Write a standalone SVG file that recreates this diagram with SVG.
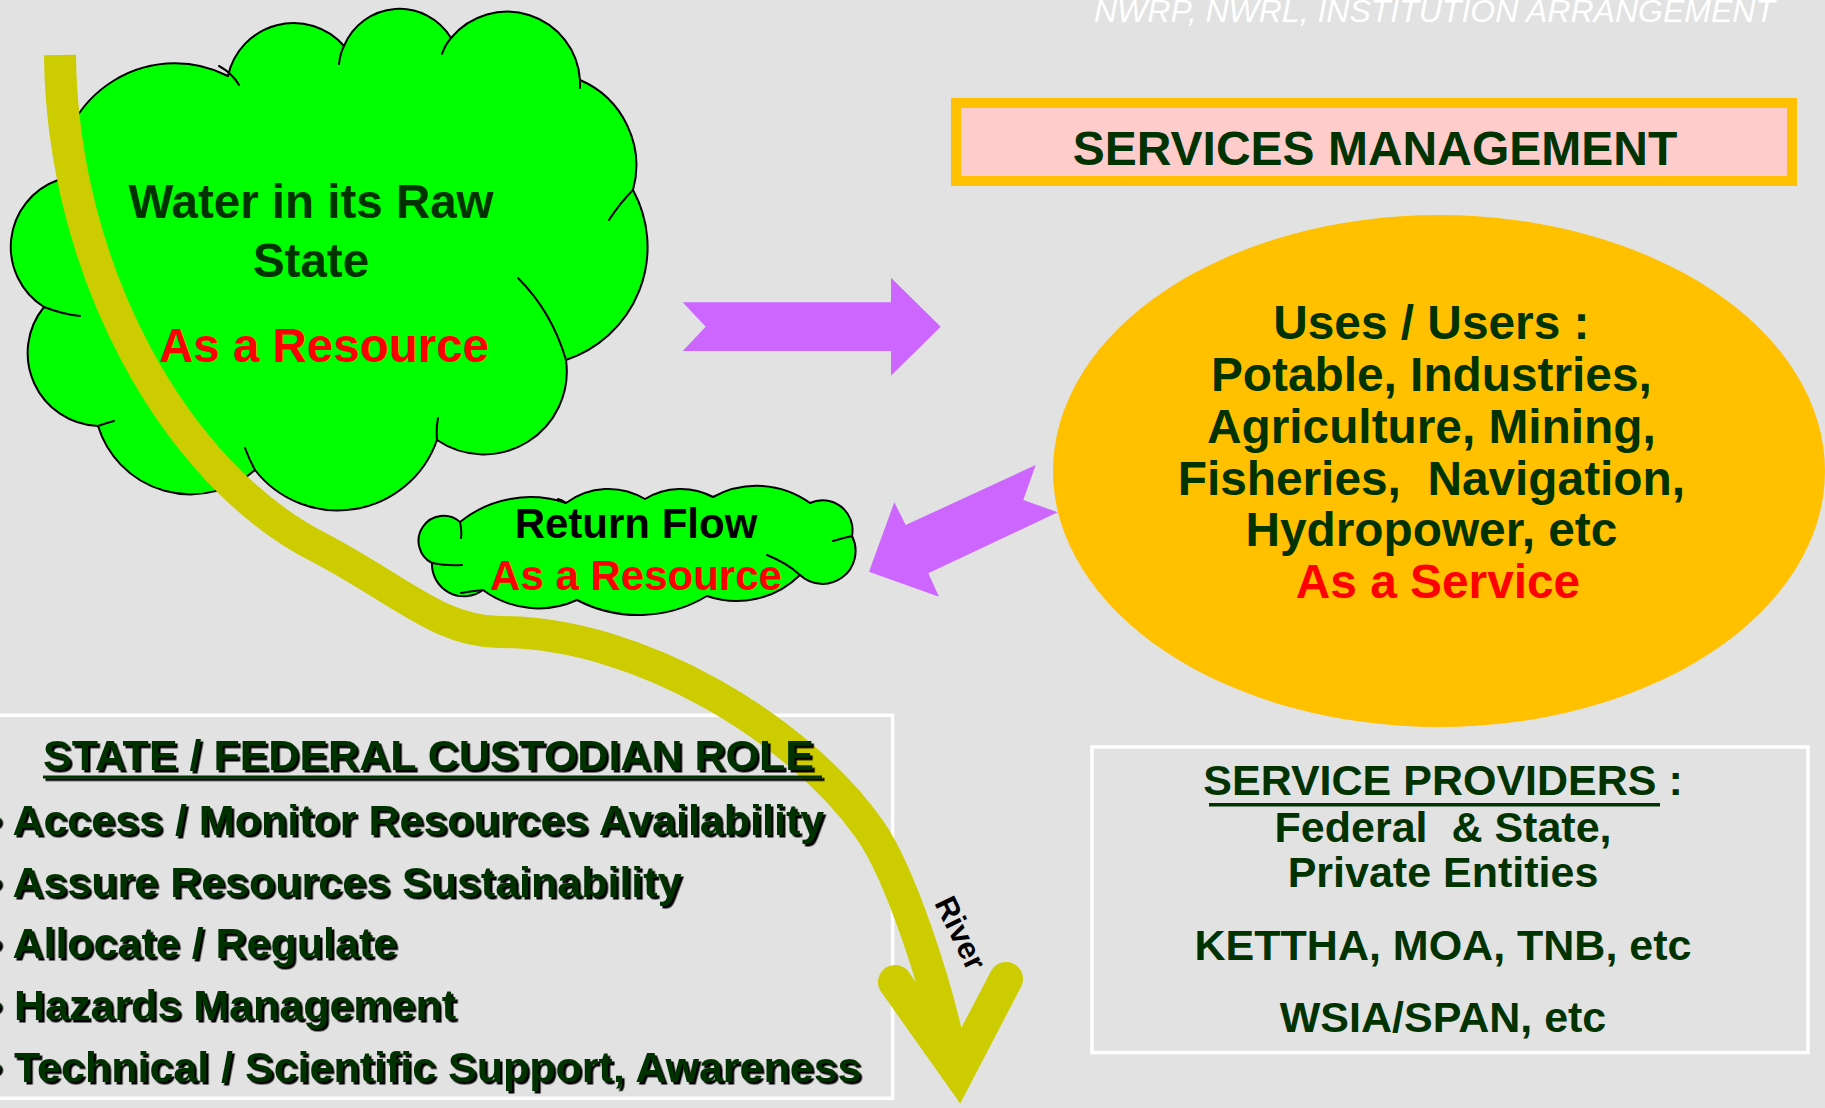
<svg xmlns="http://www.w3.org/2000/svg" width="1825" height="1108" viewBox="0 0 1825 1108">
<defs>
<style>
.t{font-family:"Liberation Sans",Arial,sans-serif;font-weight:bold}
.g{fill:#003300}
.r{fill:#FF0000}
.k{fill:#000000}
.cloud{fill:#00FF00;stroke:#000;stroke-width:2;stroke-linejoin:round}
.tail{fill:none;stroke:#000;stroke-width:2;stroke-linecap:round}
.box{fill:none;stroke:#FFFFFF;stroke-width:3.5}
.purple{fill:#CC66FF}
.river{fill:none;stroke:#CCCC00;stroke-width:32}
.pre{white-space:pre}
</style>
<filter id="shadow" x="-5%" y="-30%" width="112%" height="160%">
<feDropShadow dx="2.5" dy="2.5" stdDeviation="0.3" flood-color="#000000" flood-opacity="1"/>
</filter>
</defs>
<rect x="0" y="0" width="1825" height="1108" fill="#E2E2E2"/>

<g id="title">
<text x="1094" y="22" font-family="'Liberation Sans',Arial,sans-serif" font-style="italic" font-size="32" fill="#FFFFFF">NWRP, NWRL, INSTITUTION ARRANGEMENT</text>
</g>

<g id="raw-water-cloud">
<path class="cloud" d="M58,180 A117,117 0 0 1 228,76 A67,67 0 0 1 344,46 A60,60 0 0 1 451,38 A73,73 0 0 1 580,80 A93,93 0 0 1 633,190 A119,119 0 0 1 566,360 A83,83 0 0 1 437,440 A105,105 0 0 1 255,470 A97,97 0 0 1 98,426 A73,73 0 0 1 44,307 A71,71 0 0 1 58,180 Z"/>
<path class="tail" d="M219,66 Q232,73 239,85 M344,46 Q340,54 339,64 M451,38 Q445,45 442,54 M580,80 L580,88 M633,190 Q620,203 609,220 M518,278 Q552,312 566,360 M437,440 Q436,428 438,418 M255,470 Q249,459 245,448 M98,426 Q106,423 114,421 M44,307 Q62,314 80,316"/>
</g>

<g id="services-management">
<rect x="956" y="103" width="836" height="78" fill="#FFCCCC" stroke="#FFC000" stroke-width="10"/>
<text class="t g" x="1375" y="165" font-size="48" text-anchor="middle">SERVICES MANAGEMENT</text>
</g>

<g id="uses-users">
<ellipse cx="1439" cy="471" rx="386" ry="256" fill="#FFC000"/>
<text class="t g pre" font-size="47.8" text-anchor="middle">
<tspan x="1438" y="339">Uses / Users :</tspan>
<tspan x="1438" y="391">Potable, Industries,</tspan>
<tspan x="1438" y="443">Agriculture, Mining,</tspan>
<tspan x="1438" y="495">Fisheries,  Navigation,</tspan>
<tspan x="1438" y="546">Hydropower, etc</tspan>
</text>
<text class="t r" x="1438" y="598" font-size="47.8" text-anchor="middle">As a Service</text>
</g>

<g id="custodian-box">
<rect class="box" x="-4" y="715.3" width="896.6" height="383"/>
</g>

<g id="service-providers">
<rect class="box" x="1092" y="747" width="716" height="305.5"/>
<text class="t g pre" font-size="43" text-anchor="middle">
<tspan x="1449" y="795">SERVICE PROVIDERS :</tspan>
<tspan x="1449" y="842">Federal  &amp; State,</tspan>
<tspan x="1449" y="887">Private Entities</tspan>
<tspan x="1449" y="960">KETTHA, MOA, TNB, etc</tspan>
<tspan x="1449" y="1032">WSIA/SPAN, etc</tspan>
</text>
<rect x="1209" y="803" width="451" height="3.5" fill="#003300"/>
</g>

<g id="connectors">
<polygon id="arrow-to-uses" class="purple" points="682.7,302.3 891,302.3 891,277.7 940.7,326.7 891,375.7 891,351 682.7,351 705.7,326.7"/>
<polygon id="arrow-return" class="purple" points="1035.7,465 1023.3,500 1057.7,512.3 928.3,573.3 939,596.7 869,571.7 894.3,502.3 905.7,525"/>
<g id="river">
<path class="river" d="M60,55 C62,270 175,475 320,548 C400,590 440,632 500,632 C640,632 800,730 870,830 C900,873 935,980 950,1050"/>
<polyline points="895,982 958,1071 1006,979" fill="none" stroke="#CCCC00" stroke-width="34" stroke-linecap="round" stroke-linejoin="miter" stroke-miterlimit="10"/>
<text class="t k" x="0" y="11" font-size="31" text-anchor="middle" transform="translate(961,933) rotate(64)">River</text>
</g>
</g>

<g id="return-flow-cloud">
<path class="cloud" d="M460,522 A112,112 0 0 1 566,503 A71,71 0 0 1 645,499 A69,69 0 0 1 713,497 A91,91 0 0 1 810,503 A30,30 0 0 1 852,536 A33,33 0 0 1 800,575 A90,90 0 0 1 707,596 A133,133 0 0 1 577,600 A93,93 0 0 1 483,590 A32,32 0 0 1 432,563 A25,25 0 1 1 460,522 Z"/>
<path class="tail" d="M432,563 Q447,566 462,565 M767,555 Q787,563 800,575 M833,541 Q843,538 852,536 M483,590 Q472,591 461,593 M566,503 Q562,500 558,499 M460,522 Q462,530 461,538"/>
<text class="t k" x="636" y="538" font-size="42" text-anchor="middle">Return Flow</text>
<text class="t r" x="636" y="590" font-size="42" text-anchor="middle">As a Resource</text>
</g>

<g id="raw-water-label">
<text class="t g" x="311" y="218" font-size="47.5" text-anchor="middle">Water in its Raw</text>
<text class="t g" x="311" y="277" font-size="47.5" text-anchor="middle">State</text>
<text class="t r" x="324" y="362" font-size="47.5" text-anchor="middle">As a Resource</text>
</g>

<g id="custodian-label" filter="url(#shadow)">
<text class="t g" x="43" y="770" font-size="43">STATE / FEDERAL CUSTODIAN ROLE</text>
<rect x="43" y="775.5" width="779" height="3" fill="#003300"/>
<text class="t g" font-size="43">
<tspan x="-13" y="835">• Access / Monitor Resources Availability</tspan>
<tspan x="-13" y="897">• Assure Resources Sustainability</tspan>
<tspan x="-13" y="958">• Allocate / Regulate</tspan>
<tspan x="-13" y="1020">• Hazards Management</tspan>
<tspan x="-13" y="1082">• Technical / Scientific Support, Awareness</tspan>
</text>
</g>
</svg>
